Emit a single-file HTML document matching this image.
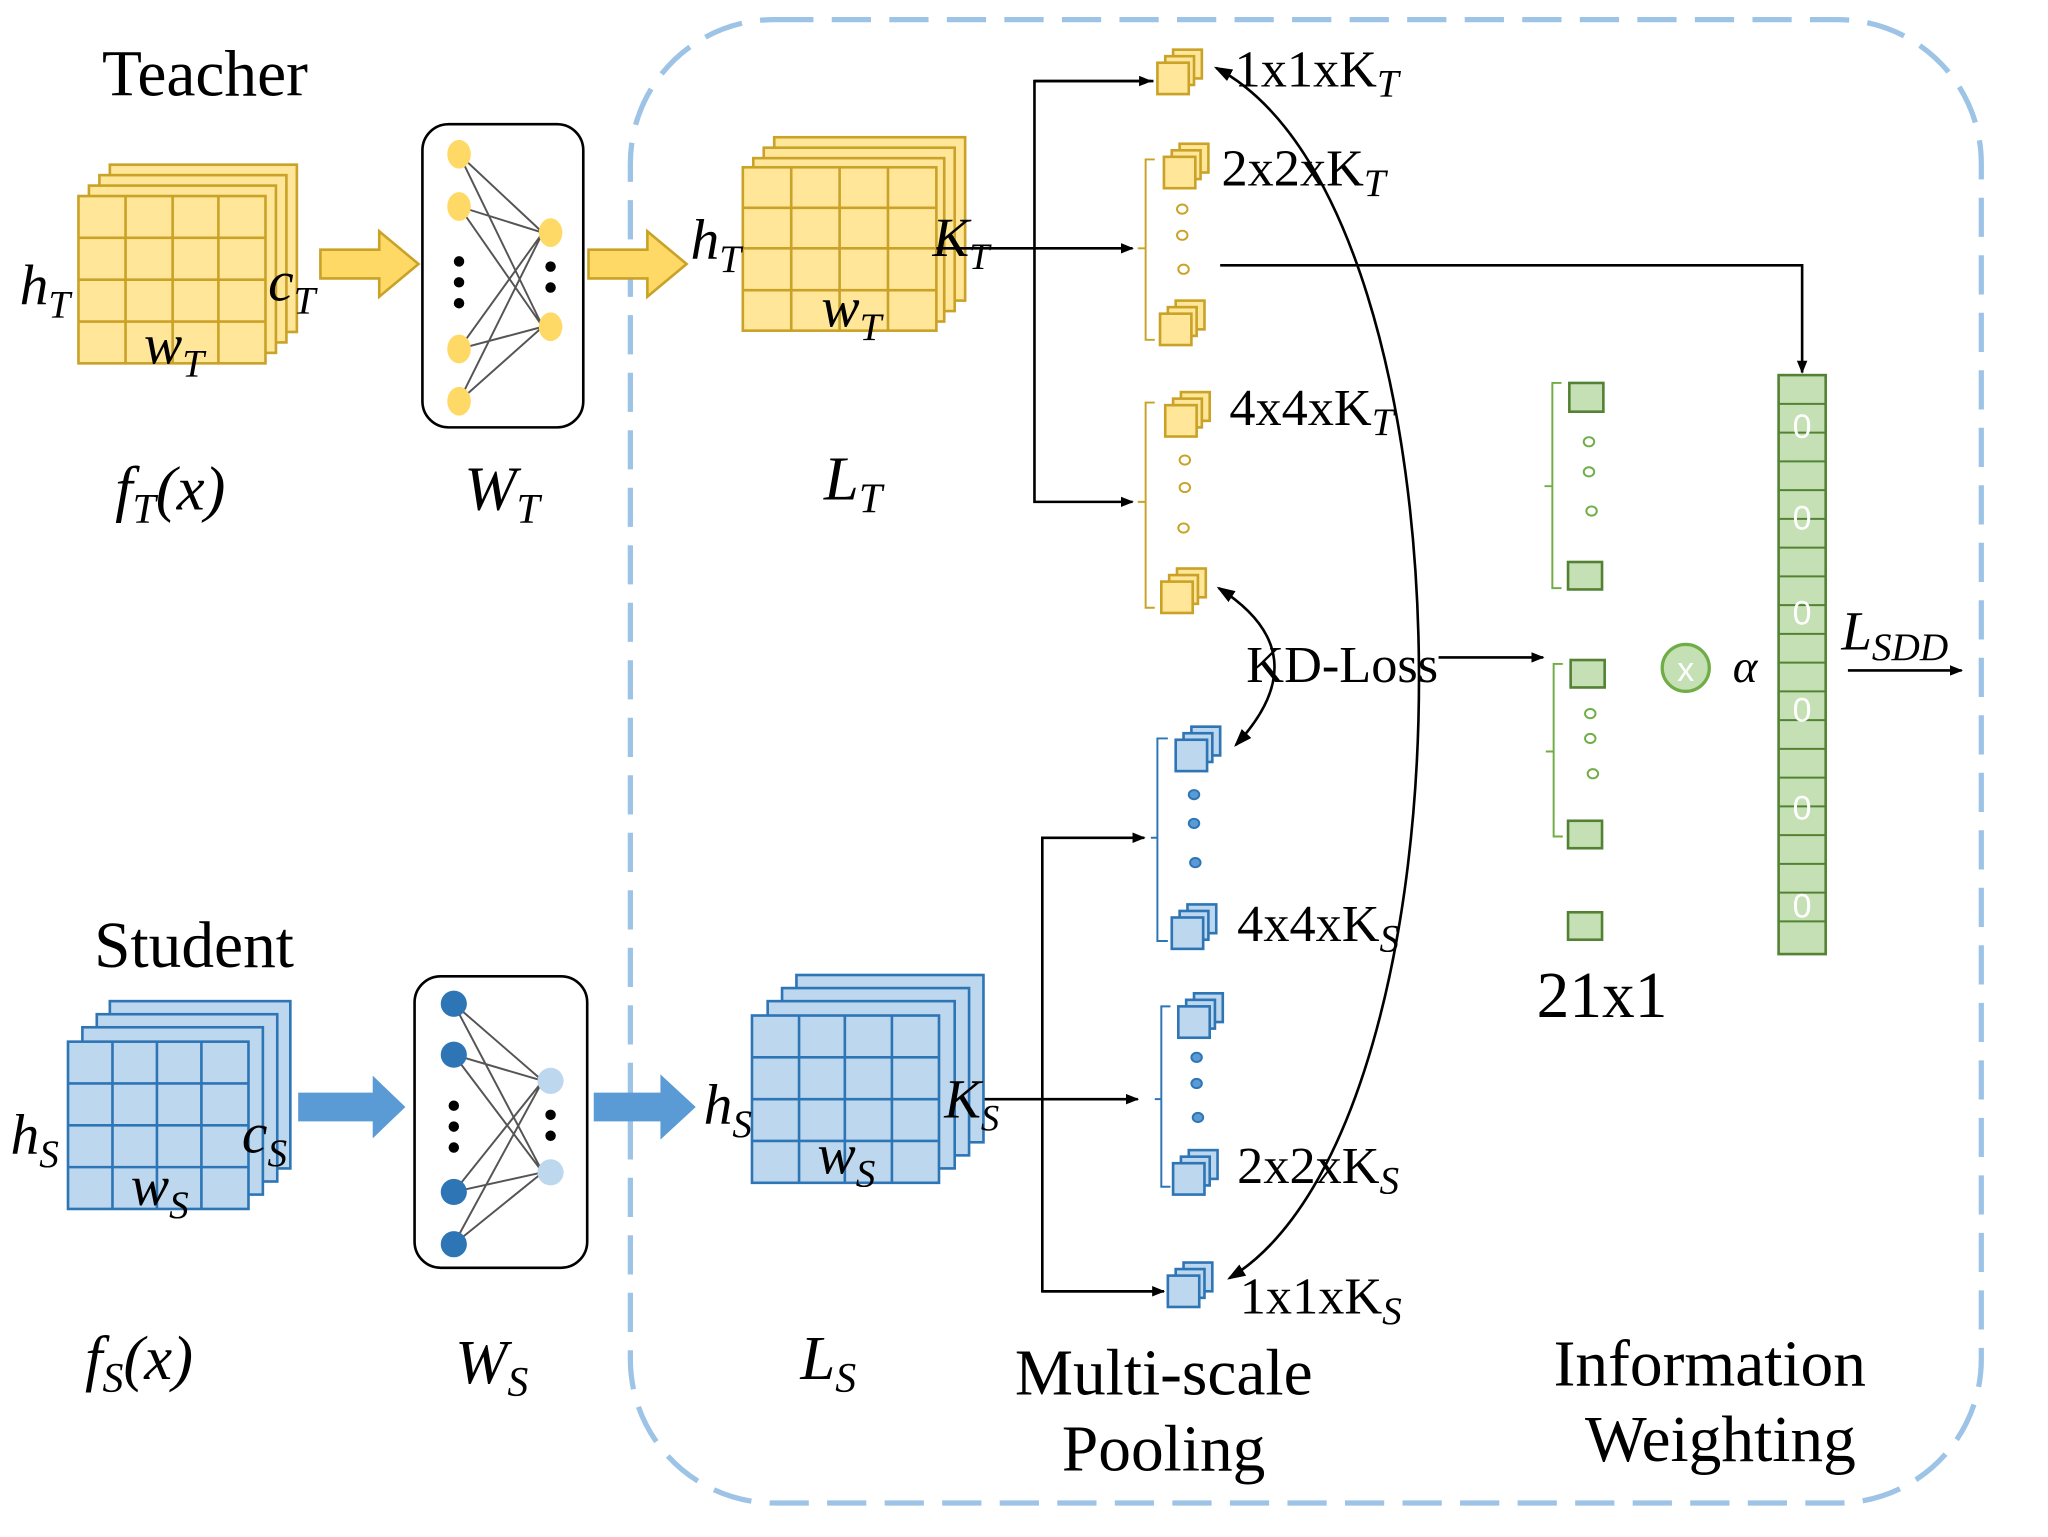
<!DOCTYPE html>
<html><head><meta charset="utf-8"><style>html,body{margin:0;padding:0;background:#fff}svg{display:block}</style></head>
<body>
<svg width="2048" height="1537" viewBox="0 0 1566 1176" preserveAspectRatio="none" xmlns="http://www.w3.org/2000/svg" font-family="Liberation Serif, serif">
<defs>
<marker id="ah" markerWidth="10" markerHeight="8" refX="9" refY="4" orient="auto" markerUnits="userSpaceOnUse"><path d="M0,0 L10,4 L0,8 Z" fill="#000"/></marker>
<marker id="ah2" markerWidth="14" markerHeight="10" refX="12" refY="5" orient="auto-start-reverse" markerUnits="userSpaceOnUse"><path d="M0,0 L14,5 L0,10 Z" fill="#000"/></marker>
<g id="ycube"><rect x="12" y="-10" width="22" height="22" fill="#ffe699" stroke="#c9a227" stroke-width="2"/><rect x="6" y="-5" width="22" height="22" fill="#ffe699" stroke="#c9a227" stroke-width="2"/><rect x="0" y="0" width="24" height="24" fill="#ffe699" stroke="#c9a227" stroke-width="2"/></g>
<g id="bcube"><rect x="12" y="-10" width="22" height="22" fill="#bdd7ee" stroke="#2e75b6" stroke-width="2"/><rect x="6" y="-5" width="22" height="22" fill="#bdd7ee" stroke="#2e75b6" stroke-width="2"/><rect x="0" y="0" width="24" height="24" fill="#bdd7ee" stroke="#2e75b6" stroke-width="2"/></g>
</defs>

<rect x="482" y="15" width="1033" height="1135" rx="110" fill="none" stroke="#9dc3e6" stroke-width="4" stroke-dasharray="30 14"/>

<!-- Teacher -->
<text x="78" y="73" font-size="50">Teacher</text>
<g fill="#ffe699" stroke="#c9a227" stroke-width="2">
<rect x="84" y="126" width="143" height="128"/><rect x="76" y="134" width="143" height="128"/><rect x="68" y="142" width="143" height="128"/><rect x="60" y="150" width="143" height="128"/>
<path d="M96 150V278M132 150V278M167 150V278M60 182H203M60 214H203M60 246H203" fill="none"/>
</g>
<text x="15" y="233" font-size="44" font-style="italic">h<tspan font-size="30" dy="10">T</tspan></text>
<text x="205" y="230" font-size="44" font-style="italic">c<tspan font-size="30" dy="10">T</tspan></text>
<text x="110" y="278" font-size="44" font-style="italic">w<tspan font-size="30" dy="10">T</tspan></text>
<text x="88" y="390" font-size="48" font-style="italic">f<tspan font-size="32" dy="10">T</tspan><tspan dy="-10">(x)</tspan></text>
<path d="M245 191H290V177L320 202L290 227V213H245Z" fill="#ffd966" stroke="#c9a227" stroke-width="2"/>
<rect x="323" y="95" width="123" height="232" rx="20" fill="#fff" stroke="#000" stroke-width="2"/>
<g stroke="#555" stroke-width="1.5">
<path d="M351 118L415 178M351 118L415 250M351 158L415 178M351 158L415 250M351 267L415 178M351 267L415 250M351 307L415 178M351 307L415 250"/>
</g>
<g fill="#ffd966"><ellipse cx="351" cy="118" rx="9" ry="11"/><ellipse cx="351" cy="158" rx="9" ry="11"/><ellipse cx="351" cy="267" rx="9" ry="11"/><ellipse cx="351" cy="307" rx="9" ry="11"/><ellipse cx="421" cy="178" rx="9" ry="11"/><ellipse cx="421" cy="250" rx="9" ry="11"/></g>
<g fill="#000"><circle cx="351" cy="200" r="4"/><circle cx="351" cy="216" r="4"/><circle cx="351" cy="232" r="4"/><circle cx="421" cy="204" r="4"/><circle cx="421" cy="220" r="4"/></g>
<text x="355" y="390" font-size="48" font-style="italic">W<tspan font-size="32" dy="10">T</tspan></text>
<path d="M450 191H495V177L525 202L495 227V213H450Z" fill="#ffd966" stroke="#c9a227" stroke-width="2"/>
<g fill="#ffe699" stroke="#c9a227" stroke-width="2">
<rect x="592" y="105" width="146" height="125"/><rect x="584" y="113" width="146" height="125"/><rect x="576" y="121" width="146" height="125"/><rect x="568" y="128" width="148" height="125"/>
<path d="M605 128V253M642 128V253M679 128V253M568 159H716M568 190H716M568 222H716" fill="none"/>
</g>
<text x="528" y="198" font-size="44" font-style="italic">h<tspan font-size="30" dy="10">T</tspan></text>
<text x="713" y="196" font-size="42" font-style="italic">K<tspan font-size="28" dy="10">T</tspan></text>
<text x="628" y="250" font-size="44" font-style="italic">w<tspan font-size="30" dy="10">T</tspan></text>
<text x="630" y="382" font-size="48" font-style="italic">L<tspan font-size="32" dy="10">T</tspan></text>

<g stroke="#000" stroke-width="2" fill="none">
<path d="M716 190H866" marker-end="url(#ah)"/>
<path d="M882 62H791V384H866" marker-end="url(#ah)"/>
<path d="M791 62H880" marker-end="url(#ah)"/>
<path d="M933 203H1378V285" marker-end="url(#ah)"/>
<path d="M720 841H870" marker-end="url(#ah)"/>
<path d="M890 988H797V641H875" marker-end="url(#ah)"/>
<path d="M797 988H890" marker-end="url(#ah)"/>
<path d="M1100 503H1180" marker-end="url(#ah)"/>
<path d="M1413 513H1500" marker-end="url(#ah)"/>
<path d="M930 52C1135 160 1135 860 940 978" marker-start="url(#ah2)" marker-end="url(#ah2)"/>
<path d="M932 450Q1010 500 945 570" marker-start="url(#ah2)" marker-end="url(#ah2)"/>
</g>

<!-- yellow pools -->
<use href="#ycube" x="885" y="48"/>
<use href="#ycube" x="890" y="120"/>
<use href="#ycube" x="887" y="240"/>
<use href="#ycube" x="891" y="310"/>
<use href="#ycube" x="888" y="445"/>
<g fill="none" stroke="#c9a227" stroke-width="1.5">
<path d="M883 122H876V260H883M876 190H870"/>
<path d="M883 308H876V465H883M876 384H870"/>
<ellipse cx="904" cy="160" rx="4" ry="3.5"/><ellipse cx="904" cy="180" rx="4" ry="3.5"/><ellipse cx="905" cy="206" rx="4" ry="3.5"/>
<ellipse cx="906" cy="352" rx="4" ry="3.5"/><ellipse cx="906" cy="373" rx="4" ry="3.5"/><ellipse cx="905" cy="404" rx="4" ry="3.5"/>
</g>
<text x="944" y="66" font-size="40">1x1xK<tspan font-size="30" font-style="italic" dy="8">T</tspan></text>
<text x="934" y="142" font-size="40">2x2xK<tspan font-size="30" font-style="italic" dy="8">T</tspan></text>
<text x="940" y="325" font-size="40">4x4xK<tspan font-size="30" font-style="italic" dy="8">T</tspan></text>

<!-- blue pools -->
<use href="#bcube" x="899" y="566"/>
<use href="#bcube" x="896" y="702"/>
<use href="#bcube" x="901" y="770"/>
<use href="#bcube" x="897" y="890"/>
<use href="#bcube" x="893" y="976"/>
<g fill="#2e75b6" stroke="#2e75b6" stroke-width="1.5">
<path d="M893 565H885V720H893M885 641H880" fill="none"/>
<path d="M895 770H888V908H895M888 841H883" fill="none"/>
<ellipse cx="913" cy="608" rx="4" ry="3.5" fill="#5b9bd5"/><ellipse cx="913" cy="630" rx="4" ry="3.5" fill="#5b9bd5"/><ellipse cx="914" cy="660" rx="4" ry="3.5" fill="#5b9bd5"/>
<ellipse cx="915" cy="809" rx="4" ry="3.5" fill="#5b9bd5"/><ellipse cx="915" cy="829" rx="4" ry="3.5" fill="#5b9bd5"/><ellipse cx="916" cy="855" rx="4" ry="3.5" fill="#5b9bd5"/>
</g>
<text x="946" y="720" font-size="40">4x4xK<tspan font-size="30" font-style="italic" dy="8">S</tspan></text>
<text x="946" y="905" font-size="40">2x2xK<tspan font-size="30" font-style="italic" dy="8">S</tspan></text>
<text x="948" y="1005" font-size="40">1x1xK<tspan font-size="30" font-style="italic" dy="8">S</tspan></text>
<text x="953" y="522" font-size="40">KD-Loss</text>

<!-- green -->
<g fill="#c5e0b4" stroke="#548235" stroke-width="2">
<rect x="1200" y="293" width="26" height="22"/><rect x="1199" y="430" width="26" height="21"/>
<rect x="1201" y="505" width="26" height="21"/><rect x="1199" y="628" width="26" height="21"/><rect x="1199" y="698" width="26" height="21"/>
<rect x="1360" y="287" width="36" height="443"/>
</g>
<g fill="none" stroke="#70ad47" stroke-width="1.5">
<path d="M1194 293H1187V450H1194M1187 372H1181"/>
<path d="M1195 508H1188V640H1195M1188 575H1182"/>
<ellipse cx="1215" cy="338" rx="4" ry="3.5"/><ellipse cx="1215" cy="361" rx="4" ry="3.5"/><ellipse cx="1217" cy="391" rx="4" ry="3.5"/>
<ellipse cx="1216" cy="546" rx="4" ry="3.5"/><ellipse cx="1216" cy="565" rx="4" ry="3.5"/><ellipse cx="1218" cy="592" rx="4" ry="3.5"/>
</g>
<g stroke="#548235" stroke-width="1.5">
<path d="M1360 309H1396M1360 331H1396M1360 353H1396M1360 375H1396M1360 397H1396M1360 419H1396M1360 441H1396M1360 463H1396M1360 485H1396M1360 507H1396M1360 529H1396M1360 551H1396M1360 573H1396M1360 595H1396M1360 617H1396M1360 639H1396M1360 661H1396M1360 683H1396M1360 705H1396"/>
</g>
<g fill="#fff" font-size="26" font-family="Liberation Sans, sans-serif" text-anchor="middle">
<text x="1378" y="335">0</text><text x="1378" y="405">0</text><text x="1378" y="478">0</text><text x="1378" y="552">0</text><text x="1378" y="627">0</text><text x="1378" y="702">0</text>
</g>
<circle cx="1289" cy="511" r="18" fill="#c5e0b4" stroke="#70ad47" stroke-width="2.5"/>
<text x="1289" y="521" font-size="26" fill="#fff" text-anchor="middle" font-family="Liberation Sans, sans-serif">x</text>
<text x="1325" y="522" font-size="36" font-style="italic">α</text>
<text x="1408" y="497" font-size="42" font-style="italic">L<tspan font-size="30" dy="8">SDD</tspan></text>
<text x="1175" y="778" font-size="50">21x1</text>

<!-- Student -->
<text x="72" y="740" font-size="50">Student</text>
<g fill="#bdd7ee" stroke="#2e75b6" stroke-width="2">
<rect x="84" y="766" width="138" height="128"/><rect x="74" y="776" width="138" height="128"/><rect x="63" y="786" width="138" height="128"/><rect x="52" y="797" width="138" height="128"/>
<path d="M86 797V925M120 797V925M154 797V925M52 829H190M52 861H190M52 893H190" fill="none"/>
</g>
<text x="8" y="883" font-size="44" font-style="italic">h<tspan font-size="30" dy="10">S</tspan></text>
<text x="185" y="882" font-size="44" font-style="italic">c<tspan font-size="30" dy="10">S</tspan></text>
<text x="100" y="922" font-size="44" font-style="italic">w<tspan font-size="30" dy="10">S</tspan></text>
<text x="65" y="1055" font-size="48" font-style="italic">f<tspan font-size="32" dy="10">S</tspan><tspan dy="-10">(x)</tspan></text>
<path d="M228 836H285V823L310 847L285 871V858H228Z" fill="#5b9bd5"/>
<rect x="317" y="747" width="132" height="223" rx="20" fill="#fff" stroke="#000" stroke-width="2"/>
<g stroke="#555" stroke-width="1.5">
<path d="M347 768L415 827M347 768L415 897M347 807L415 827M347 807L415 897M347 912L415 827M347 912L415 897M347 952L415 827M347 952L415 897"/>
</g>
<g fill="#2e75b6"><circle cx="347" cy="768" r="10"/><circle cx="347" cy="807" r="10"/><circle cx="347" cy="912" r="10"/><circle cx="347" cy="952" r="10"/></g>
<g fill="#bdd7ee"><circle cx="421" cy="827" r="10"/><circle cx="421" cy="897" r="10"/></g>
<g fill="#000"><circle cx="347" cy="846" r="4"/><circle cx="347" cy="862" r="4"/><circle cx="347" cy="878" r="4"/><circle cx="421" cy="853" r="4"/><circle cx="421" cy="869" r="4"/></g>
<text x="348" y="1058" font-size="48" font-style="italic">W<tspan font-size="32" dy="10">S</tspan></text>
<path d="M454 836H505V822L532 847L505 872V858H454Z" fill="#5b9bd5"/>
<g fill="#bdd7ee" stroke="#2e75b6" stroke-width="2">
<rect x="609" y="746" width="143" height="128"/><rect x="598" y="756" width="143" height="128"/><rect x="587" y="766" width="143" height="128"/><rect x="575" y="777" width="143" height="128"/>
<path d="M611 777V905M646 777V905M682 777V905M575 809H718M575 841H718M575 873H718" fill="none"/>
</g>
<text x="538" y="860" font-size="44" font-style="italic">h<tspan font-size="30" dy="10">S</tspan></text>
<text x="722" y="855" font-size="42" font-style="italic">K<tspan font-size="28" dy="10">S</tspan></text>
<text x="625" y="898" font-size="44" font-style="italic">w<tspan font-size="30" dy="10">S</tspan></text>
<text x="612" y="1055" font-size="48" font-style="italic">L<tspan font-size="32" dy="10">S</tspan></text>

<text x="776" y="1067" font-size="50">Multi-scale</text>
<text x="812" y="1125" font-size="50">Pooling</text>
<text x="1188" y="1060" font-size="50">Information</text>
<text x="1212" y="1118" font-size="50">Weighting</text>
</svg>
</body></html>
